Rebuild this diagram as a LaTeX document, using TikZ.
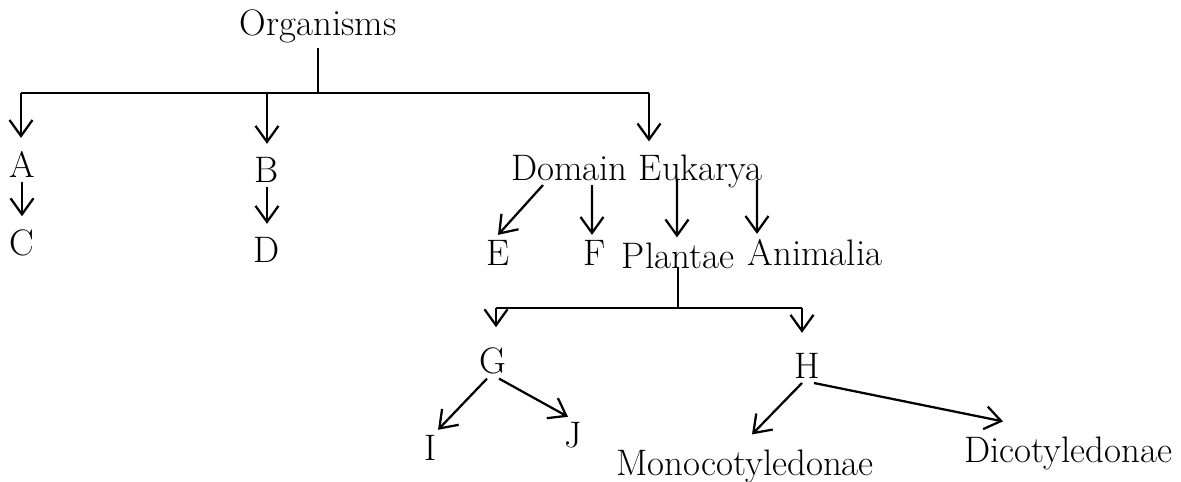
\documentclass[tikz,border=0pt]{standalone}
\usepackage{tikz}
\usetikzlibrary{arrows.meta}

\begin{document}
\begin{tikzpicture}[x=0.02cm,y=-0.02cm,line width=0.45mm,
  >={Straight Barb[length=0.32cm,width=0.46cm]},
  every node/.style={inner sep=0pt,outer sep=0.1cm,anchor=base,
    font=\fontsize{21}{25}\selectfont},
  down/.style={->,shorten >=0.16cm}]
  \useasboundingbox (0,0) rectangle (1181,481);

  \node (org)  at (318,35)  {Organisms};
  \node (A)    at (22,177)  {A};
  \node (C)    at (22,255)  {C};
  \node (B)    at (267,182) {B};
  \node (D)    at (267,262) {D};
  \node (dom)  at (637,180) {Domain Eukarya};
  \node (E)    at (498,265) {E};
  \node (F)    at (595,265) {F};
  \node (pla)  at (678,268) {Plantae};
  \node (ani)  at (815,265) {Animalia};
  \node (G)    at (493,373) {G};
  \node (H)    at (807,378) {H};
  \node (I)    at (431,460) {I};
  \node (J)    at (573,447) {J};
  \node (mono) at (745,475) {Monocotyledonae};
  \node (dico) at (1068,462) {Dicotyledonae};

  \coordinate (lft) at (21,93);
  \coordinate (rgt) at (649,93);
  \coordinate (gl)  at (496,308);
  \coordinate (gr)  at (802,308);

  % top level
  \draw (org.south) -- (org |- lft);
  \draw (lft) -- (rgt);
  \path[down] (lft) edge (lft |- A.north)
              (lft -| B) edge (B.north)
              (rgt) edge (rgt |- dom.north);
  \path[down] (A) edge (C)
              (B) edge (D);

  % Domain Eukarya
  \path[->] ([xshift=-1.88cm,yshift=-0.1cm]dom.base) edge (E.north)
            ([xshift=-0.9cm,yshift=-0.1cm]dom.base) edge ([xshift=-0.06cm]F.north)
            ([xshift=0.8cm]dom.base) edge ([xshift=-0.02cm]pla.north)
            ([xshift=2.4cm]dom.base) edge ([xshift=-1.16cm]ani.north);

  % Plantae
  \draw (pla.base) -- (pla.base |- gl);
  \draw (gl) -- (gr);
  \path[->,shorten >=0.3cm] (gl) edge (gl |- G.north)
                            (gr) edge (gr |- H.north);
  \path[->] ([xshift=-0.12cm]G.south) edge ([xshift=0.14cm]I.north)
            ([xshift=0.12cm]G.south) edge ([xshift=-0.1cm]J.north)
            ([xshift=-0.1cm]H.south) edge ([xshift=0.14cm,yshift=0.2cm]mono.north)
            ([xshift=0.14cm]H.south) edge ([xshift=-1.3cm,yshift=0.2cm]dico.north);
\end{tikzpicture}
\end{document}
